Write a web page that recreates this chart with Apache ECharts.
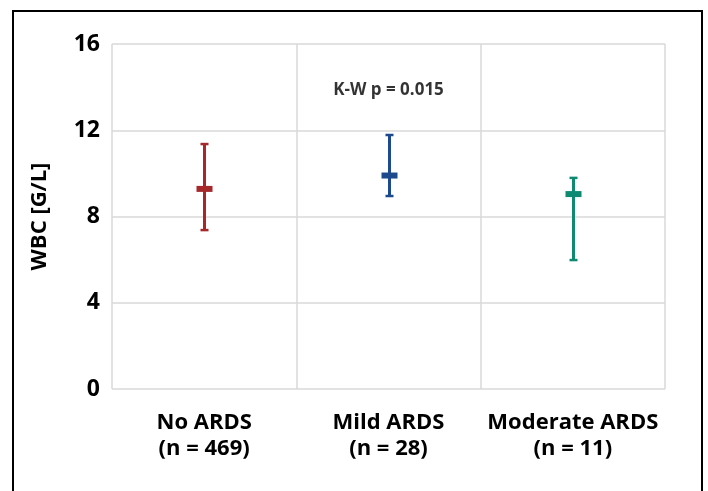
<!DOCTYPE html>
<html>
<head>
<meta charset="utf-8">
<script src="https://cdn.jsdelivr.net/npm/echarts@6/dist/echarts.min.js"></script>
<style>
html, body { margin: 0; padding: 0; background: #fff; }
#main { width: 708px; height: 491px; }
</style>
</head>
<body>
<div id="main"></div>
<script>
// groups
var categories = ['No ARDS\n(n = 469)', 'Mild ARDS\n(n = 28)', 'Moderate ARDS\n(n = 11)'];
var colors = ['#a5282b', '#1c4a8c', '#0e8a73'];
// mean and range
var means = [9.28, 9.9, 9.04];
var lows = [7.37, 8.95, 5.98];
var highs = [11.36, 11.78, 9.79];
var yTicks = [0, 4, 8, 12, 16];
var note = 'K-W p = 0.015';

var font = '"Open Sans", sans-serif';

var errData = [];
for (var i = 0; i < categories.length; i++) {
    errData.push([i, lows[i], highs[i], means[i]]);
}

var myChart = echarts.init(document.getElementById('main'));
var option = {
    animation: false,
    grid: { left: 112, right: 43, top: 44, bottom: 102 },
    graphic: [
        {
            type: 'rect',
            shape: { x: 13, y: 11, width: 689, height: 500 },
            style: { fill: 'none', stroke: '#000', lineWidth: 2 },
            silent: true
        }
    ],
    xAxis: {
        type: 'category',
        data: categories,
        boundaryGap: true,
        axisLine: { show: false },
        axisTick: { show: false },
        splitLine: { show: true, lineStyle: { color: '#d9d9d9', width: 1.5 } },
        axisLabel: {
            interval: 0,
            margin: 21,
            fontFamily: font,
            fontWeight: 'bold',
            fontSize: 22,
            lineHeight: 26,
            color: '#000'
        }
    },
    yAxis: {
        type: 'value',
        min: yTicks[0],
        max: yTicks[yTicks.length - 1],
        interval: 4,
        name: 'WBC [G/L]',
        nameLocation: 'middle',
        nameGap: 61,
        nameTextStyle: { fontFamily: font, fontWeight: 'bold', fontSize: 22, color: '#000' },
        axisLine: { show: false },
        axisTick: { show: false },
        splitLine: { lineStyle: { color: '#d9d9d9', width: 1.5 } },
        axisLabel: { margin: 12, fontFamily: font, fontWeight: 'bold', fontSize: 23, color: '#000' }
    },
    series: [
        {
            type: 'custom',
            data: errData,
            renderItem: function (params, api) {
                var idx = api.value(0);
                var lo = api.coord([idx, api.value(1)]);
                var hi = api.coord([idx, api.value(2)]);
                var mid = api.coord([idx, api.value(3)]);
                var c = colors[params.dataIndex];
                var x = Math.round(lo[0]) + 0.5;
                return {
                    type: 'group',
                    children: [
                        { type: 'line', shape: { x1: x, y1: hi[1], x2: x, y2: lo[1] }, style: { stroke: c, lineWidth: 3 } },
                        { type: 'line', shape: { x1: x - 4, y1: hi[1], x2: x + 4, y2: hi[1] }, style: { stroke: c, lineWidth: 2.5 } },
                        { type: 'line', shape: { x1: x - 4, y1: lo[1], x2: x + 4, y2: lo[1] }, style: { stroke: c, lineWidth: 2.5 } },
                        { type: 'rect', shape: { x: x - 8, y: mid[1] - 3, width: 16, height: 6 }, style: { fill: c } }
                    ]
                };
            },
            z: 5
        },
        {
            type: 'scatter',
            data: [[1, 13.85]],
            symbolSize: 0,
            silent: true,
            label: {
                show: true,
                formatter: note,
                position: 'inside',
                fontFamily: font,
                fontWeight: 'bold',
                fontSize: 17,
                color: '#000'
            }
        }
    ]
};
myChart.setOption(option);
</script>
</body>
</html>
